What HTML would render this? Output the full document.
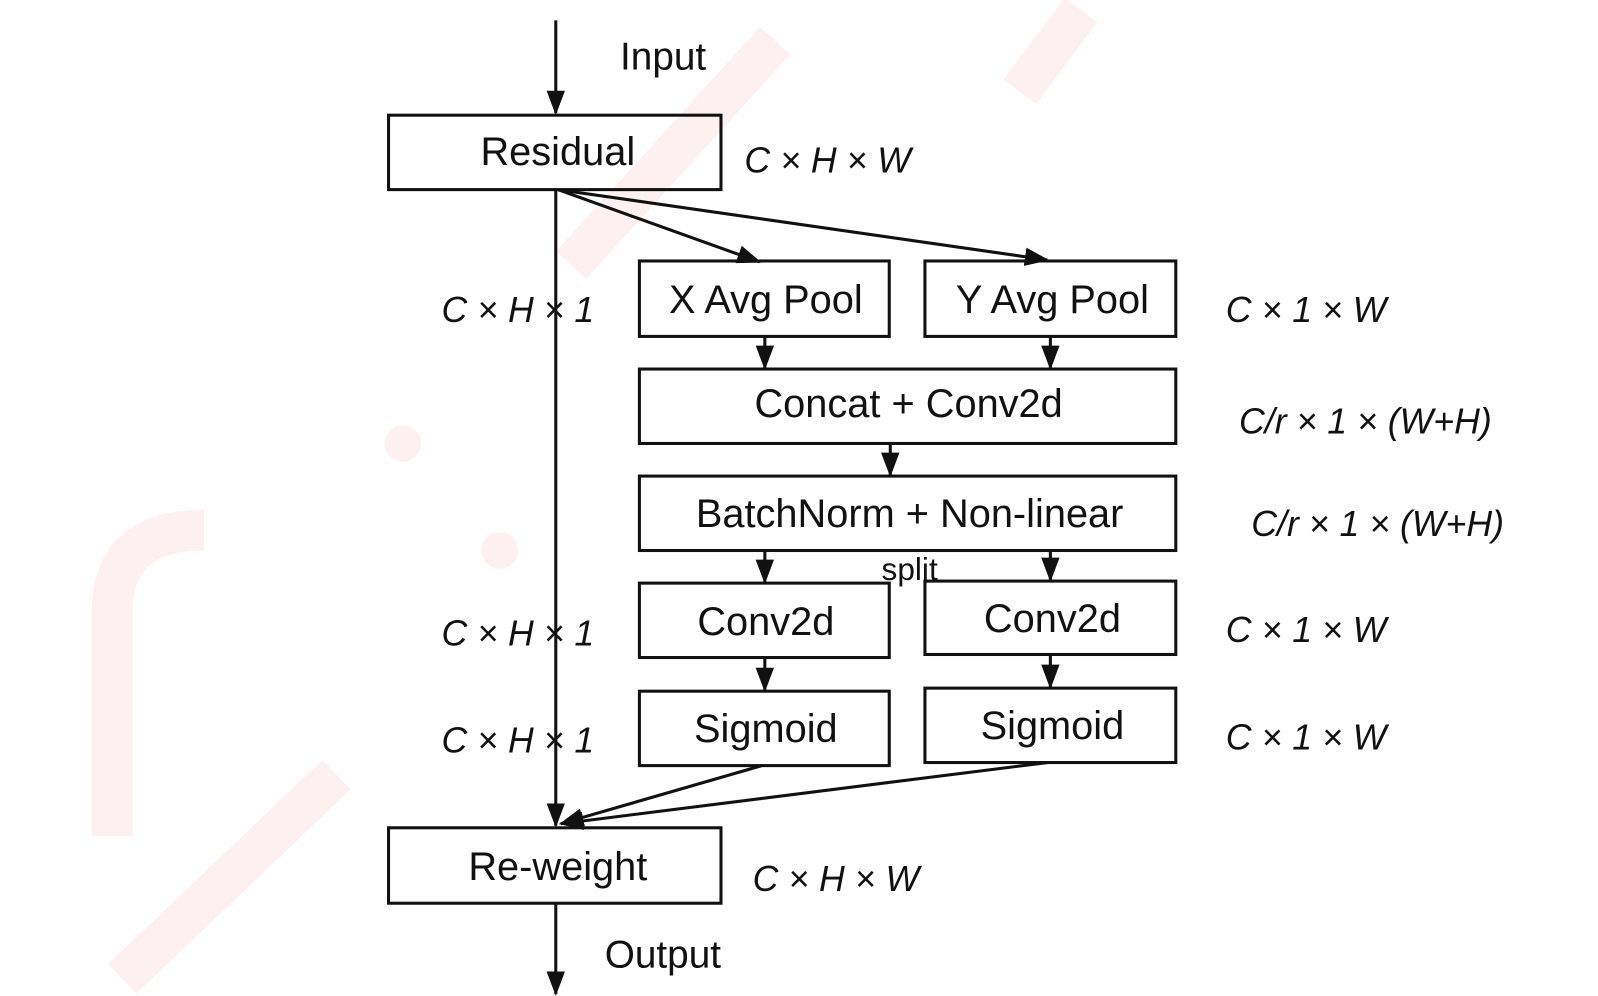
<!DOCTYPE html>
<html><head><meta charset="utf-8"><style>
html,body{margin:0;padding:0;background:#fff;}
svg{display:block;}
text{font-family:"Liberation Sans",Arial,sans-serif;fill:#111;}
.b{font-size:39px;text-anchor:middle;}
.i{font-size:35px;font-style:italic;}
</style></head><body>
<svg width="1598" height="996" viewBox="0 0 1567 977" preserveAspectRatio="none" xmlns="http://www.w3.org/2000/svg">
<defs>
<marker id="A" markerWidth="24" markerHeight="24" refX="22" refY="12" orient="auto" markerUnits="userSpaceOnUse"><path d="M0,3 L24,12 L0,21 z" fill="#111"/></marker></defs>
<g stroke="#fcf0f0" stroke-width="40" fill="none">
<path d="M120,960 L330,760"/><path d="M110,820 L110,600 Q110,520 200,520"/>
<path d="M560,260 L760,40"/><path d="M1000,90 L1060,10"/>
</g>
<circle cx="395" cy="435" r="18" fill="#fcf0f0"/><circle cx="490" cy="540" r="18" fill="#fcf0f0"/>
<g stroke="#111" stroke-width="3" fill="none">
<line x1="545" y1="20" x2="545" y2="111" marker-end="url(#A)"/>
<rect x="381" y="113" width="326" height="73"/>
<line x1="545" y1="186" x2="545" y2="810" marker-end="url(#A)"/>
<line x1="547" y1="186" x2="745" y2="257" marker-end="url(#A)"/>
<line x1="547" y1="186" x2="1027" y2="255" marker-end="url(#A)"/>
<rect x="627" y="256" width="245" height="74"/>
<rect x="907" y="256" width="246" height="74"/>
<line x1="750" y1="330" x2="750" y2="361" marker-end="url(#A)"/>
<line x1="1030" y1="330" x2="1030" y2="361" marker-end="url(#A)"/>
<rect x="627" y="362" width="526" height="73"/>
<line x1="873" y1="435" x2="873" y2="466" marker-end="url(#A)"/>
<rect x="627" y="467" width="526" height="73"/>
<line x1="750" y1="540" x2="750" y2="571" marker-end="url(#A)"/>
<line x1="1030" y1="540" x2="1030" y2="569" marker-end="url(#A)"/>
<rect x="627" y="572" width="245" height="73"/>
<rect x="907" y="570" width="246" height="72"/>
<line x1="750" y1="645" x2="750" y2="677" marker-end="url(#A)"/>
<line x1="1030" y1="642" x2="1030" y2="674" marker-end="url(#A)"/>
<rect x="627" y="678" width="245" height="73"/>
<rect x="907" y="675" width="246" height="73"/>
<line x1="747" y1="751" x2="550" y2="808" marker-end="url(#A)"/>
<line x1="1027" y1="748" x2="550" y2="808" marker-end="url(#A)"/>
<rect x="381" y="812" width="326" height="74"/>
<line x1="545" y1="886" x2="545" y2="975" marker-end="url(#A)"/>
</g>
<text x="608" y="68" style="font-size:38px">Input</text>
<text class="b" x="547" y="162">Residual</text>
<text class="i" x="730" y="169">C × H × W</text>
<text class="b" x="751" y="307">X Avg Pool</text>
<text class="b" x="1032" y="307">Y Avg Pool</text>
<text class="b" x="891" y="409">Concat + Conv2d</text>
<text class="b" x="892" y="517">BatchNorm + Non-linear</text>
<text x="892" y="569" style="font-size:31px;text-anchor:middle">split</text>
<text class="b" x="751" y="623">Conv2d</text>
<text class="b" x="1032" y="620">Conv2d</text>
<text class="b" x="751" y="728">Sigmoid</text>
<text class="b" x="1032" y="725">Sigmoid</text>
<text class="b" x="547" y="863">Re-weight</text>
<text class="i" x="738" y="874">C × H × W</text>
<text x="593" y="949" style="font-size:38px">Output</text>
<text class="i" x="433" y="316">C × H × 1</text>
<text class="i" x="433" y="633">C × H × 1</text>
<text class="i" x="433" y="738">C × H × 1</text>
<text class="i" x="1202" y="316">C × 1 × W</text>
<text class="i" x="1202" y="630">C × 1 × W</text>
<text class="i" x="1202" y="735">C × 1 × W</text>
<text class="i" x="1215" y="425">C/r × 1 × (W+H)</text>
<text class="i" x="1227" y="526">C/r × 1 × (W+H)</text>
</svg>
</body></html>
